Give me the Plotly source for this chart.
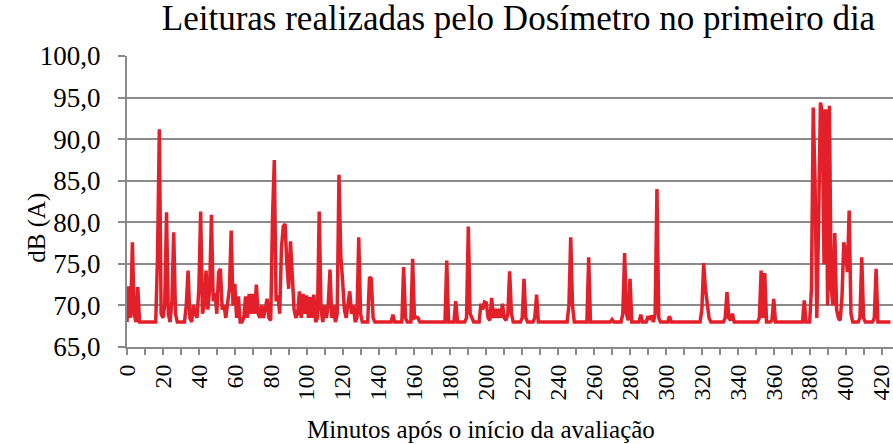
import plotly.graph_objects as go

# Minutes after start of the evaluation (one reading per minute)
minutes = list(range(426))

# dB(A) readings, 10 per row (row start minute in comment)
db_readings = [
    68, 72.3, 68.5, 77.6, 69, 68, 72.2, 68, 68, 68,            # 0
    68, 68, 68, 68, 68, 68, 68, 76, 91.2, 69,                  # 10
    68.5, 70, 81.2, 69, 68, 70.5, 78.8, 69, 68, 68,            # 20
    68, 68, 68, 70, 74.2, 68.5, 68, 70, 69, 68.5,              # 30
    72, 81.3, 69, 70, 74.2, 69.5, 72, 80.9, 70.5, 71.5,        # 40
    69, 74, 74.4, 69.5, 70, 68.5, 70, 72, 79, 70,              # 50
    72.6, 68.5, 71.1, 68, 68, 68.5, 71.1, 68.5, 71.4, 69,      # 60
    71.4, 69, 72.5, 69, 68.5, 70, 68.5, 70, 70.8, 68.5,        # 70
    68.2, 80.5, 87.5, 70.5, 71.2, 69, 77, 79.5, 79.8, 75,      # 80
    72, 77.7, 73, 69.5, 68.5, 69, 71.7, 68.5, 71.4, 69,        # 90
    71.2, 68.5, 71, 68.5, 71.3, 68, 68.5, 81.3, 69.5, 68,      # 100
    70, 68.5, 70, 74.3, 68.5, 70, 68, 69, 85.7, 76,            # 110
    73, 69.5, 68.5, 70, 71.7, 69, 70, 68, 68.5, 78.2,          # 120
    69, 68, 68, 68, 68, 73.4, 73.2, 68.5, 68, 68,              # 130
    68, 68, 68, 68, 68, 68, 68, 68, 68.9, 68,                  # 140
    68, 68, 68, 68, 74.6, 68.5, 68, 68, 68, 75.6,              # 150
    68.5, 68.6, 68.5, 68, 68, 68, 68, 68, 68, 68,              # 160
    68, 68, 68, 68, 68, 68, 68, 68, 75.4, 68,                  # 170
    68, 68, 68, 70.5, 68, 68, 68, 68, 68, 68.5,                # 180
    79.5, 69, 68.5, 68, 68, 68, 68, 70.2, 69.5, 70.4,          # 190
    70.3, 68.5, 68.2, 70.9, 68.5, 69.6, 68.5, 69.6, 68.5, 70.2, # 200
    68.5, 68.2, 69, 74.1, 69, 68, 68, 68, 68, 68,              # 210
    68.5, 73.2, 68.5, 68, 68, 68, 68, 68.5, 71.3, 68,          # 220
    68, 68, 68, 68, 68, 68, 68, 68, 68, 68,                    # 230
    68, 68, 68, 68, 68, 68, 70, 78.2, 70, 68,                  # 240
    68, 68, 68, 68, 68, 68, 68, 75.8, 68, 68,                  # 250
    68, 68, 68, 68, 68, 68, 68, 68, 68, 68,                    # 260
    68.3, 68, 68, 68, 68, 68, 69, 76.3, 69, 68.2,              # 270
    73.2, 68, 68, 68, 68, 68, 68.9, 68, 68, 68,                # 280
    68.7, 68.3, 68.8, 68, 69, 84, 68.5, 68, 68, 68,            # 290
    68, 68, 68.7, 68, 68, 68, 68, 68, 68, 68,                  # 300
    68, 68, 68, 68, 68, 68, 68, 68, 68, 68,                    # 310
    69.5, 75.1, 72, 70, 68.5, 68, 68, 68, 68, 68,              # 320
    68, 68, 68, 68.5, 71.6, 68.5, 68.2, 69, 68, 68,            # 330
    68, 68, 68, 68, 68, 68, 68, 68, 68, 68,                    # 340
    68, 68, 68.5, 74.2, 68.5, 73.9, 68, 68, 68, 68.2,          # 350
    70.8, 68, 68, 68, 68, 68, 68, 68, 68, 68,                  # 360
    68, 68, 68, 68, 68, 68, 68, 70.6, 68, 68,                  # 370
    68, 72, 93.8, 85, 68.5, 80, 94.4, 93.4, 75, 93.6,          # 380
    70, 94, 72, 70, 78.7, 69.5, 68.5, 68.2, 71, 77.6,          # 390
    76.5, 74, 81.4, 69, 68, 68, 68, 68, 68.5, 75.8,            # 400
    68.5, 68, 68, 68, 68, 68, 68.5, 74.4, 68, 68,              # 410
    68, 68, 68, 68, 68, 68,                                    # 420
]

title_text = "Leituras realizadas pelo Dosímetro no primeiro dia"
x_title = "Minutos após o início da avaliação"
y_title = "dB (A)"

SERIF = "Liberation Serif, Times New Roman, serif"
GRID = "#8a8a8a"

fig = go.Figure(
    go.Scatter(
        x=minutes,
        y=db_readings,
        mode="lines",
        line=dict(color="#E3202A", width=3.5),
        hoverinfo="x+y",
    )
)

fig.update_layout(
    width=893,
    height=444,
    margin=dict(l=127, r=0, t=56, b=96.5),
    paper_bgcolor="white",
    plot_bgcolor="white",
    separators=",.",
    showlegend=False,
    font=dict(family=SERIF, color="black"),
    title=dict(
        text=title_text,
        x=0.5806,
        xanchor="center",
        y=1 - 18 / 444,
        yanchor="middle",
        font=dict(family=SERIF, size=35, color="black"),
    ),
    annotations=[
        dict(
            text=x_title, xref="paper", yref="paper",
            x=0.462, y=-0.283, xanchor="center", yanchor="middle",
            showarrow=False, font=dict(family=SERIF, size=25, color="black"),
        ),
        dict(
            text=y_title, xref="paper", yref="paper", textangle=-90,
            x=-0.1175, y=0.41, xanchor="center", yanchor="middle",
            showarrow=False, font=dict(family=SERIF, size=25, color="black"),
        ),
    ],
)

fig.update_xaxes(
    range=[0, 426.4],
    tickmode="linear",
    tick0=0,
    dtick=20,
    ticks="outside",
    ticklen=6,
    tickwidth=1.5,
    tickcolor=GRID,
    minor=dict(dtick=10, tick0=0, ticks="outside", ticklen=6, tickwidth=1.5, tickcolor=GRID),
    showline=True,
    linecolor=GRID,
    linewidth=2,
    showgrid=False,
    zeroline=False,
    tickangle=-90,
    automargin=False,
    ticklabeloverflow="allow",
    tickfont=dict(family=SERIF, size=24, color="black"),
)

fig.update_yaxes(
    range=[65, 100],
    tickmode="linear",
    tick0=65,
    dtick=5,
    tickformat=".1f",
    ticks="outside",
    ticklen=7,
    tickwidth=1.5,
    tickcolor=GRID,
    showline=True,
    linecolor=GRID,
    linewidth=2,
    showgrid=True,
    gridcolor=GRID,
    gridwidth=2,
    zeroline=False,
    automargin=False,
    ticklabelstandoff=12,
    tickfont=dict(family=SERIF, size=27, color="black"),
)

# remove the default 8px page margin so the figure fills the 893x444 window exactly
fig.write_html(
    "out.html",
    config={"displayModeBar": False},
    post_script="document.body.style.margin='0';document.body.style.overflow='hidden';",
)
